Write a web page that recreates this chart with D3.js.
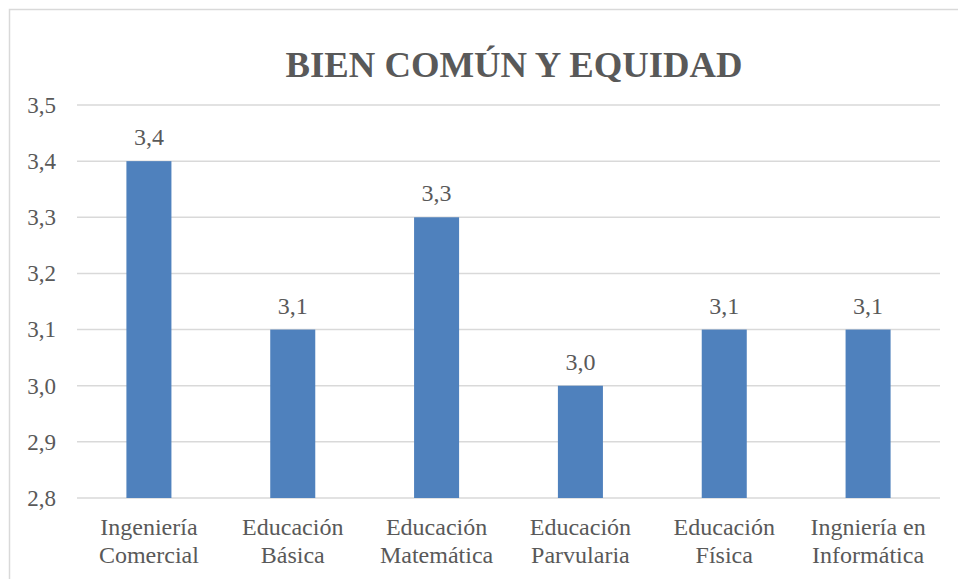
<!DOCTYPE html>
<html>
<head>
<meta charset="utf-8">
<script src="https://cdn.jsdelivr.net/npm/d3@7"></script>
<style>
  body { margin: 0; background: #fff; }
</style>
</head>
<body>
<div id="chart"></div>
<script>
const chartTitle = 'BIEN COMÚN Y EQUIDAD';
const categories = [
  ['Ingeniería', 'Comercial'],
  ['Educación', 'Básica'],
  ['Educación', 'Matemática'],
  ['Educación', 'Parvularia'],
  ['Educación', 'Física'],
  ['Ingniería en', 'Informática']
];
const values = [3.4, 3.1, 3.3, 3.0, 3.1, 3.1];
const yTicks = [2.8, 2.9, 3.0, 3.1, 3.2, 3.3, 3.4, 3.5];

const width = 958;
const height = 579;
const margin = { top: 105, right: 18, bottom: 81, left: 77 };
const plotWidth = width - margin.left - margin.right;
const plotHeight = height - margin.top - margin.bottom;

const fontFamily = "'Liberation Serif', 'Times New Roman', serif";
const textColor = '#595959';

const fmt = (v) => d3.format('.1f')(v).replace('.', ',');

const svg = d3.select('#chart')
  .append('svg')
    .attr('width', width)
    .attr('height', height)
    .attr('font-family', fontFamily);

// chart frame (only top and left edges fall inside the picture)
svg.append('rect')
    .attr('x', 9.5)
    .attr('y', 9.5)
    .attr('width', width + 20)
    .attr('height', height + 20)
    .attr('fill', 'none')
    .attr('stroke', '#d9d9d9')
    .attr('stroke-width', 1.5);

svg.append('text')
    .attr('x', 514)
    .attr('y', 77)
    .attr('text-anchor', 'middle')
    .attr('font-family', fontFamily)
    .attr('font-size', 36.7)
    .attr('font-weight', 'bold')
    .attr('fill', textColor)
    .text(chartTitle);

const g = svg.append('g')
    .attr('transform', 'translate(' + margin.left + ',' + margin.top + ')');

const x = d3.scaleBand()
    .domain(d3.range(categories.length))
    .range([0, plotWidth])
    .paddingInner(0.687)
    .paddingOuter(0.3435);

const y = d3.scaleLinear()
    .domain([2.8, 3.5])
    .range([plotHeight, 0]);

// gridlines
g.append('g')
    .attr('class', 'grid-y')
    .selectAll('line')
    .data(yTicks)
    .enter().append('line')
      .attr('x1', 0)
      .attr('x2', plotWidth)
      .attr('y1', (d) => y(d))
      .attr('y2', (d) => y(d))
      .attr('stroke', '#d9d9d9')
      .attr('stroke-width', 1.5);

// y axis labels
const yAxis = g.append('g')
    .attr('class', 'axis-y')
    .call(d3.axisLeft(y).tickValues(yTicks).tickFormat(fmt).tickSize(0).tickPadding(21));
yAxis.attr('font-family', fontFamily).attr('font-size', 23);
yAxis.select('.domain').remove();
yAxis.selectAll('text')
    .attr('font-family', fontFamily)
    .attr('font-size', 23)
    .attr('fill', textColor);

// bars
g.append('g')
    .attr('class', 'bars')
    .selectAll('rect')
    .data(values)
    .enter().append('rect')
      .attr('x', (d, i) => x(i))
      .attr('y', (d) => y(d))
      .attr('width', x.bandwidth())
      .attr('height', (d) => plotHeight - y(d))
      .attr('fill', '#4f81bd');

// data labels
g.append('g')
    .attr('class', 'labels')
    .selectAll('text')
    .data(values)
    .enter().append('text')
      .attr('x', (d, i) => x(i) + x.bandwidth() / 2)
      .attr('y', (d) => y(d) - 16)
      .attr('text-anchor', 'middle')
      .attr('font-family', fontFamily)
      .attr('font-size', 24)
      .attr('fill', textColor)
      .text((d) => fmt(d));

// category labels, two lines each
const cat = g.append('g')
    .attr('class', 'axis-x')
    .selectAll('text')
    .data(categories)
    .enter().append('text')
      .attr('x', (d, i) => x(i) + x.bandwidth() / 2)
      .attr('y', plotHeight + 37)
      .attr('text-anchor', 'middle')
      .attr('font-family', fontFamily)
      .attr('font-size', 24)
      .attr('fill', textColor);

cat.selectAll('tspan')
    .data((d) => d)
    .enter().append('tspan')
      .attr('x', function() { return this.parentNode.getAttribute('x'); })
      .attr('dy', (d, i) => (i === 0 ? 0 : 28))
      .text((d) => d);
</script>
</body>
</html>
